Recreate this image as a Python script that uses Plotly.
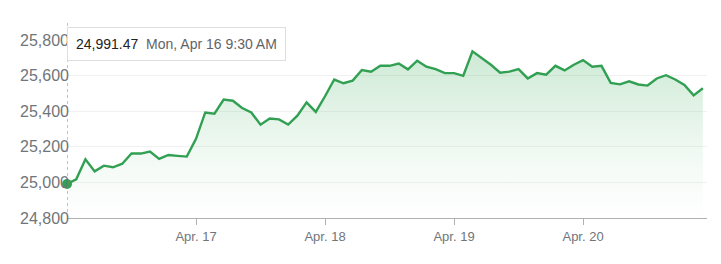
import plotly.graph_objects as go

# Intraday index values (half-hour steps, Apr 16 - Apr 20)
values = [
    24991.47, 25017, 25130, 25062, 25094, 25085, 25105, 25162, 25162, 25173,
    25132, 25154, 25149, 25145,
    25245, 25393, 25386, 25465, 25459, 25418, 25393, 25324, 25359, 25354,
    25325, 25375, 25450, 25396,
    25484, 25578, 25557, 25572, 25631, 25622, 25655, 25655, 25668, 25635,
    25684, 25650, 25636, 25614,
    25614, 25599, 25736, 25698, 25661, 25616, 25622, 25636, 25584, 25614,
    25605, 25655, 25629, 25661,
    25687, 25650, 25655, 25559, 25551, 25568, 25550, 25544, 25584, 25602,
    25578, 25548, 25489, 25529,
]
x_index = list(range(len(values)))

day_tick_index = [14, 28, 42, 56]
day_tick_text = ["Apr. 17", "Apr. 18", "Apr. 19", "Apr. 20"]

y_ticks = [24800, 25000, 25200, 25400, 25600, 25800]
y_tick_text = ["24,800", "25,000", "25,200", "25,400", "25,600", "25,800"]

tooltip_value = "24,991.47"
tooltip_date = "Mon, Apr 16 9:30 AM"

GREEN = "#31a052"
GRAY_TXT = "#70757a"

fig = go.Figure()
fig.add_trace(go.Scatter(
    x=x_index, y=values, mode="lines",
    line=dict(color=GREEN, width=2.4),
    fill="tozeroy",
    fillgradient=dict(
        type="vertical", start=24800, stop=max(values),
        colorscale=[[0, "rgba(52,168,83,0.0)"], [0.35, "rgba(52,168,83,0.06)"],
                    [1, "rgba(52,168,83,0.24)"]],
    ),
    hoverinfo="skip", showlegend=False,
))
fig.add_trace(go.Scatter(
    x=[x_index[0]], y=[values[0]], mode="markers",
    marker=dict(color=GREEN, size=10),
    hoverinfo="skip", showlegend=False, cliponaxis=False,
))

# hover crosshair
fig.add_shape(type="line", xref="x", yref="paper",
              x0=x_index[0], x1=x_index[0], y0=0, y1=1.1,
              line=dict(color="#888888", width=1, dash="dot"), layer="below")

fig.add_annotation(
    xref="x", yref="paper", x=x_index[0], y=1.075, xanchor="left", yanchor="top",
    text=(f"<span style='color:#222222'>{tooltip_value}</span>&nbsp;&nbsp;"
          f"<span style='color:#5f6368'>{tooltip_date}</span>"),
    showarrow=False, align="left",
    font=dict(family="Liberation Sans, Arial, sans-serif", size=14),
    bgcolor="white", bordercolor="#dedede", borderwidth=1, borderpad=8,
)

fig.update_layout(
    width=721, height=264,
    margin=dict(l=67, r=14, t=40, b=46),
    paper_bgcolor="white", plot_bgcolor="white",
    hovermode=False,
    font=dict(family="Liberation Sans, Arial, sans-serif"),
    xaxis=dict(
        range=[0, 69.45], tickmode="array", tickvals=day_tick_index,
        ticktext=day_tick_text, showgrid=False, zeroline=False,
        showline=True, linecolor="#b0b0b0", linewidth=1,
        ticks="outside", ticklen=6, tickcolor="#b0b0b0", tickwidth=1,
        tickfont=dict(size=13, color=GRAY_TXT),
    ),
    yaxis=dict(
        range=[24800, 25800], tickmode="array", tickvals=y_ticks,
        ticktext=y_tick_text, showgrid=True, gridcolor="#f1f1f1",
        zeroline=False, ticks="", showline=False,
        tickfont=dict(size=16, color=GRAY_TXT),
        ticklabelstandoff=-3,
    ),
)

fig.write_html("out.html")
